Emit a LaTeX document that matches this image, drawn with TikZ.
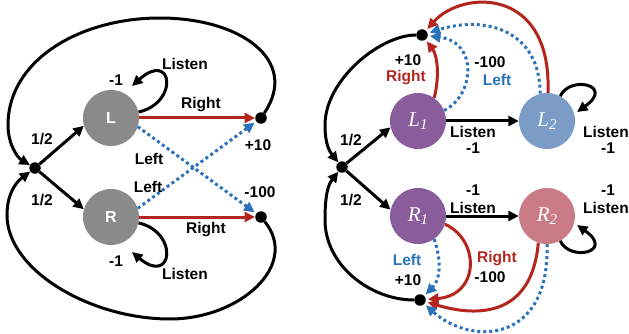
\documentclass[tikz,border=0pt]{standalone}
\usepackage{fontspec}
\setmainfont{Liberation Sans}
\newfontfamily\tms{Liberation Serif}
\usetikzlibrary{arrows.meta}
\definecolor{cgray}{HTML}{8A8A8A}
\definecolor{cpurple}{HTML}{8A5C9C}
\definecolor{cltwo}{HTML}{7A9CC6}
\definecolor{crtwo}{HTML}{CA7C86}
\definecolor{cred}{HTML}{B3261E}
\definecolor{cblue}{HTML}{2A72BA}
\tikzset{
  state/.style={circle, minimum size=56pt, inner sep=0pt, text=white},
  lrstate/.style={state, fill=cgray, font=\fontsize{16}{18}\bfseries\selectfont},
  mstate/.style={state, font=\fontsize{21}{22}\tms\itshape},
  dotn/.style={circle, fill=black, minimum size=11.5pt, inner sep=0pt},
  conn/.style={line width=3pt, -{Triangle[length=10.5pt,width=10pt]}},
  rconn/.style={conn, color=cred},
  bconn/.style={conn, color=cblue, dash pattern=on 3pt off 3pt, shorten >=2pt},
  lbl/.style={font=\fontsize{15.5}{18}\bfseries\selectfont, inner sep=0pt},
}
\newcommand{\sub}[2]{#1\raisebox{-0.35ex}{\fontsize{15}{15}\selectfont #2}}
\begin{document}
\begin{tikzpicture}[x=1pt,y=-1pt]
\useasboundingbox (0,0) rectangle (629,334);
% ---------------- left diagram ----------------
\node[dotn] (s) at (35,168) {};
\node[lrstate] (L) at (111,118) {L};
\node[lrstate] (R) at (111,217) {R};
\node[dotn] (tL) at (261,118) {};
\node[dotn] (tR) at (261,217) {};
\coordinate (lLe) at (132,86);
\coordinate (lRe) at (132,252);

\draw[conn] (s) -- (L.196);
\draw[conn] (s) -- (R.164);
\draw[rconn] (L) -- (tL);
\draw[rconn] (R) -- (tR);
\draw[bconn] (L.-18) -- (tR);
\draw[bconn] (R.18) -- (tL);
\draw[conn] (L.12) .. controls (180,102) and (172,50) .. (lLe);
\draw[conn] (R.-12) .. controls (180,233) and (172,286) .. (lRe);
\draw[conn] (tL) .. controls (300,60) and (240,18) .. (160,18)
  .. controls (80,18) and (8,60) .. (8,125)
  .. controls (8,145) and (18,158) .. (s);
\draw[conn] (tR) .. controls (300,265) and (240,319) .. (170,319)
  .. controls (90,319) and (7,270) .. (7,215)
  .. controls (7,195) and (15,183) .. (s);

\node[lbl] (h1) at (42,139) {1/2};
\node[lbl] (h2) at (42,200) {1/2};
\node[lbl] (r1) at (201,105) {Right};
\node[lbl] (r2) at (206,230) {Right};
\node[lbl] (le1) at (149,159) {Left};
\node[lbl] (le2) at (148,187) {Left};
\node[lbl] (p10) at (258,145) {+10};
\node[lbl] (m100) at (260,192) {-100};
\node[lbl] (m1a) at (116,80) {-1};
\node[lbl] (m1b) at (116,261) {-1};
\node[lbl] (lia) at (185,64) {Listen};
\node[lbl] (lib) at (185,274) {Listen};

% ---------------- right diagram ----------------
\node[dotn] (s2) at (342,167) {};
\node[dotn] (T) at (422,35) {};
\node[dotn] (B) at (420,300) {};
\node[mstate, fill=cpurple] (L1) at (418,121) {\sub{L}{1}};
\node[mstate, fill=cltwo] (L2) at (547,121) {\sub{L}{2}};
\node[mstate, fill=cpurple] (R1) at (418,216) {\sub{R}{1}};
\node[mstate, fill=crtwo] (R2) at (547,216) {\sub{R}{2}};
\coordinate (lL2e) at (577,112);
\coordinate (lR2e) at (577,225);

\draw[conn] (s2) -- (L1.193);
\draw[conn] (s2) -- (R1.167);
\draw[conn] (L1) -- (L2);
\draw[conn] (R1) -- (R2);
\draw[conn] (T) .. controls (380,35) and (325,80) .. (325,125)
  .. controls (325,145) and (330,152) .. (s2);
\draw[conn] (B) .. controls (370,300) and (325,265) .. (325,220)
  .. controls (325,195) and (328,185) .. (s2);
\draw[conn] (L2.62) .. controls (570,75) and (615,85) .. (lL2e);
\draw[conn] (R2.-62) .. controls (570,262) and (615,252) .. (lR2e);

\draw[rconn, shorten >=2pt] (L1.55) .. controls (440,75) and (437,55) .. (T);
\draw[bconn] (L1.22) .. controls (475,95) and (478,42) .. (T);
\draw[bconn] (L2.104) .. controls (540,30) and (485,15) .. (T);
\draw[rconn, shorten >=2pt] (L2.88) .. controls (552,-14) and (462,-10) .. (T);

\draw[bconn] (R1.-55) .. controls (442,262) and (440,280) .. (B);
\draw[rconn, shorten >=2pt] (R1.-17) .. controls (480,240) and (480,295) .. (B);
\draw[rconn, shorten >=2pt] (R2.-108) .. controls (532,315) and (480,318) .. (B);
\draw[bconn] (R2.-90) .. controls (550,345) and (470,345) .. (B);

\node[lbl] (h3) at (351,140) {1/2};
\node[lbl] (h4) at (351,200) {1/2};
\node[lbl] (p10b) at (408,60) {+10};
\node[lbl, text=cred] (rt1) at (406,78) {Right};
\node[lbl] (m100b) at (490,62) {-100};
\node[lbl, text=cblue] (lf1) at (497,80) {Left};
\node[lbl] (li1) at (473,132) {Listen};
\node[lbl] (m1c) at (473,148) {-1};
\node[lbl] (li2) at (606,132) {Listen};
\node[lbl] (m1d) at (608,148) {-1};
\node[lbl] (m1e) at (473,190) {-1};
\node[lbl] (li3) at (473,208) {Listen};
\node[lbl] (m1f) at (608,190) {-1};
\node[lbl] (li4) at (606,208) {Listen};
\node[lbl, text=cblue] (lf2) at (407,260) {Left};
\node[lbl] (p10c) at (408,280) {+10};
\node[lbl, text=cred] (rt2) at (497,259) {Right};
\node[lbl] (m100c) at (490,277) {-100};
\end{tikzpicture}
\end{document}
